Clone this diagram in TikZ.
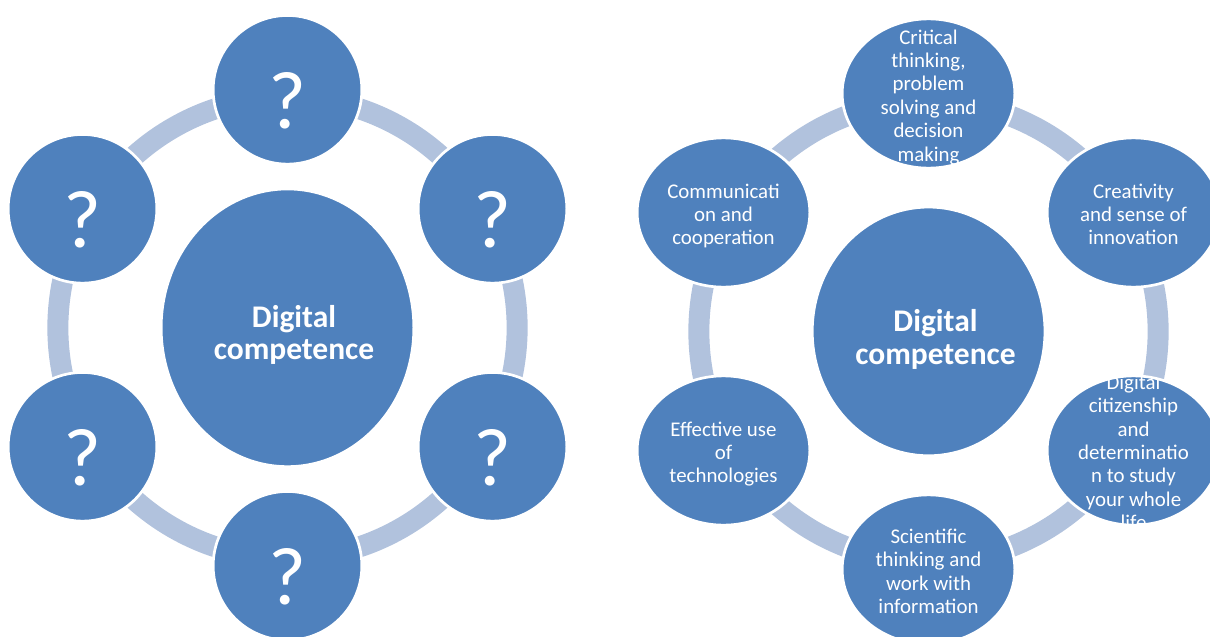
\documentclass[tikz,border=0pt]{standalone}
\usepackage{fontspec}
\setmainfont{Carlito}
\usetikzlibrary{shapes.geometric,calc,backgrounds}
\definecolor{cblue}{HTML}{4F81BD}
\definecolor{carc}{HTML}{B1C2DD}
\tikzset{
  blob/.style={ellipse, fill=cblue, draw=white, line width=2.7pt, inner sep=0pt, outer sep=0pt},
  smallc/.style={blob, minimum width=148.7pt, minimum height=148.7pt},
  widec/.style={blob, minimum width=172.7pt, minimum height=149.3pt},
  ring/.style={draw=carc, line width=21pt},
  qtxt/.style={text=white, inner sep=0pt, anchor=base, font=\fontsize{82}{90}\selectfont},
  itxt/.style={text=white, inner sep=0pt, align=center, font=\fontsize{20.9}{23.4}\selectfont,
    execute at begin node=\strut, execute at end node=\strut},
  btxt/.style={text=white, inner sep=0pt, align=center, font=\bfseries\fontsize{31.5}{32.5}\selectfont,
    execute at begin node=\strut, execute at end node=\strut},
  qmark/.style={path picture={\node[qtxt] (#1) at ([yshift=-38.5pt]path picture bounding box.center) {?};}},
  intext/.style 2 args={path picture={\node[itxt] (#1) at ([yshift=-5.3pt]path picture bounding box.center) {#2};}},
}
\begin{document}
\begin{tikzpicture}[x=1pt, y=-1pt]
\clip (0,0) rectangle (1210,637);
% ---------- left diagram ----------
\node[blob, minimum width=252.7pt, minimum height=277.7pt] (dc1) at (287.5,327.8) {};
\node[btxt] (dt1) at (294,337.5) {Digital\\competence};
\node[smallc, qmark=qa] (q1) at (287.5,89.8) {};
\node[smallc, qmark=qb] (q2) at (492.5,208.8) {};
\node[smallc, qmark=qc] (q3) at (492.5,446.8) {};
\node[smallc, qmark=qd] (q4) at (287.5,565.8) {};
\node[smallc, qmark=qe] (q5) at (82.5,446.8) {};
\node[smallc, qmark=qf] (q6) at (82.5,208.8) {};
% ---------- right diagram ----------
\node[blob, minimum width=232.7pt, minimum height=248.7pt] (dc2) at (928.6,331.4) {};
\node[btxt] (dt2) at (935.5,341.8) {Digital\\competence};
\node[widec, intext={ra}{Critical\\thinking,\\problem\\solving and\\decision\\making}] (r1) at (928.5,93.5) {};
\node[widec, intext={rb}{Creativity\\and sense of\\innovation}] (r2) at (1133.5,212.5) {};
\node[widec, intext={rc}{Digital\\citizenship\\and\\determinatio\\n to study\\your whole\\life}] (r3) at (1133.5,450.5) {};
\node[widec, intext={rd}{Scientific\\thinking and\\work with\\information}] (r4) at (928.5,569.5) {};
\node[widec, intext={re}{Effective use\\of\\technologies}] (r5) at (723.5,450.5) {};
\node[widec, intext={rf}{Communicati\\on and\\cooperation}] (r6) at (723.5,212.5) {};
% ---------- connecting arcs ----------
\begin{pgfonlayer}{background}
\foreach \a/\b in {q1/q2,q2/q3,q3/q4,q4/q5,q5/q6,q6/q1}
  \draw[ring] ($(\a)!0.03!(dc1)$) to[bend left=30, looseness=0.912] ($(\b)!0.03!(dc1)$);
\foreach \a/\b in {r1/r2,r2/r3,r3/r4,r4/r5,r5/r6,r6/r1}
  \draw[ring] ($(\a)!0.03!(dc2)$) to[bend left=30, looseness=0.912] ($(\b)!0.03!(dc2)$);
\end{pgfonlayer}
\end{tikzpicture}
\end{document}
